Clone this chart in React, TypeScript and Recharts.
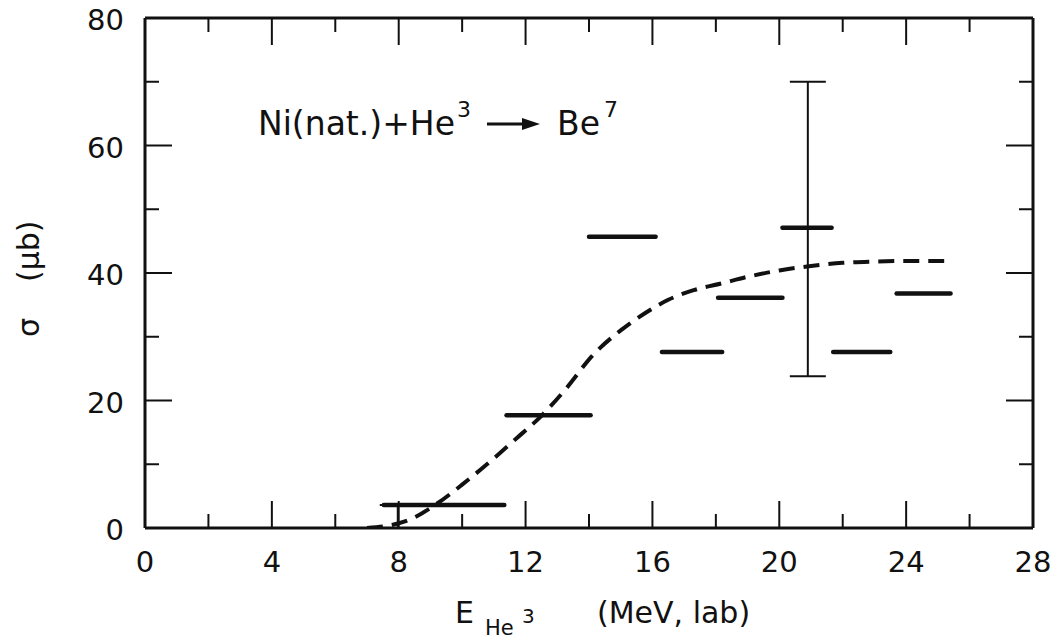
import React from 'react';
import { ComposedChart, Line, Scatter, ErrorBar, XAxis, YAxis } from 'recharts';

// ---- data ----
const xTicks = [0, 2, 4, 6, 8, 10, 12, 14, 16, 18, 20, 22, 24, 26, 28];
const yTicks = [0, 10, 20, 30, 40, 50, 60, 70, 80];
const xMajorStep = 4;
const yMajorStep = 20;

// energy bins (horizontal bars): low edge, high edge, cross section (µb)
const binLo = [7.53, 11.4, 14.0, 16.3, 18.07, 20.1, 21.7, 23.7];
const binHi = [11.33, 14.05, 16.1, 18.2, 20.1, 21.65, 23.5, 25.4];
const binVal = [3.6, 17.7, 45.7, 27.6, 36.1, 47.1, 27.6, 36.8];

// vertical error bars
const errX = [7.97, 20.9];
const errY = [3.6, 47.1];
const errLow = [3.6, 23.3];
const errHigh = [0, 22.9];

// dashed excitation-function curve
const curveX = [7.0, 7.7, 8.3, 9.2, 10.0, 10.9, 11.7, 12.5, 13.3, 14.1, 15.0, 15.8, 16.5, 17.3, 18.2, 19.0, 20.0, 21.0, 22.0, 23.0, 24.0, 25.2];
const curveY = [0, 0.4, 1.2, 3.8, 6.8, 10.5, 14.0, 17.6, 22.0, 27.0, 31.0, 33.8, 35.8, 37.3, 38.4, 39.4, 40.4, 41.1, 41.6, 41.8, 41.9, 41.9];

const FONT = "'DejaVu Sans', sans-serif";
const MAJOR = 27;
const MINOR = 14;
const INK = '#111';

const curveData = curveX.map((x, i) => ({ x, y: curveY[i] }));
const binData = binLo.map((lo, i) => [
  { x: lo, y: binVal[i] },
  { x: binHi[i], y: binVal[i] },
]);
const errData = errX.map((x, i) => ({ x, y: errY[i], err: [errLow[i], errHigh[i]] }));

const BottomTick = (props: any) => {
  const { x, y, payload } = props;
  const v = payload.value;
  const major = v % xMajorStep === 0;
  return (
    <g>
      <line x1={x} y1={y} x2={x} y2={y - (major ? MAJOR : MINOR)} stroke={INK} strokeWidth={2} />
      {major && (
        <text x={x} y={y + 44} textAnchor="middle" fontSize={29} fontFamily={FONT} fill={INK}>
          {v}
        </text>
      )}
    </g>
  );
};

const TopTick = (props: any) => {
  const { x, y, payload } = props;
  const v = payload.value;
  const major = v % xMajorStep === 0;
  return <line x1={x} y1={y} x2={x} y2={y + (major ? MAJOR : MINOR)} stroke={INK} strokeWidth={2} />;
};

const LeftTick = (props: any) => {
  const { x, y, payload } = props;
  const v = payload.value;
  const major = v % yMajorStep === 0;
  return (
    <g>
      <line x1={x} y1={y} x2={x + (major ? MAJOR : MINOR)} y2={y} stroke={INK} strokeWidth={2} />
      {major && (
        <text x={x - 21} y={y + 12} textAnchor="end" fontSize={29} fontFamily={FONT} fill={INK}>
          {v}
        </text>
      )}
    </g>
  );
};

const RightTick = (props: any) => {
  const { x, y, payload } = props;
  const v = payload.value;
  const major = v % yMajorStep === 0;
  return <line x1={x} y1={y} x2={x - (major ? MAJOR : MINOR)} y2={y} stroke={INK} strokeWidth={2} />;
};

const NoShape = () => <g />;

export default function App() {
  const axisLine = { stroke: INK, strokeWidth: 3 };
  return (
    <div style={{ position: 'absolute', left: 0, top: 0, width: 1060, height: 640, background: '#fff' }}>
      <ComposedChart width={1060} height={640} margin={{ top: 10, right: 19, bottom: 62, left: 85 }}>
        <XAxis
          xAxisId="b"
          dataKey="x"
          type="number"
          domain={[0, 28]}
          ticks={xTicks}
          interval={0}
          allowDataOverflow
          orientation="bottom"
          height={50}
          axisLine={axisLine}
          tickLine={false}
          tickSize={0}
          tickMargin={0}
          tick={<BottomTick />}
        />
        <XAxis
          xAxisId="t"
          dataKey="x"
          type="number"
          domain={[0, 28]}
          ticks={xTicks}
          interval={0}
          allowDataOverflow
          orientation="top"
          height={8}
          axisLine={axisLine}
          tickLine={false}
          tickSize={0}
          tickMargin={0}
          tick={<TopTick />}
        />
        <YAxis
          yAxisId="l"
          type="number"
          domain={[0, 80]}
          ticks={yTicks}
          interval={0}
          allowDataOverflow
          orientation="left"
          width={60}
          axisLine={axisLine}
          tickLine={false}
          tickSize={0}
          tickMargin={0}
          tick={<LeftTick />}
        />
        <YAxis
          yAxisId="r"
          type="number"
          domain={[0, 80]}
          ticks={yTicks}
          interval={0}
          allowDataOverflow
          orientation="right"
          width={8}
          axisLine={axisLine}
          tickLine={false}
          tickSize={0}
          tickMargin={0}
          tick={<RightTick />}
        />

        <Line
          xAxisId="b"
          yAxisId="l"
          data={curveData}
          dataKey="y"
          type="monotone"
          stroke={INK}
          strokeWidth={4}
          strokeDasharray="16 9"
          dot={false}
          activeDot={false}
          isAnimationActive={false}
        />
        {binData.map((d, i) => (
          <Line
            key={i}
            xAxisId="b"
            yAxisId="l"
            data={d}
            dataKey="y"
            type="linear"
            stroke={INK}
            strokeWidth={4.5}
            strokeLinecap="round"
            dot={false}
            activeDot={false}
            isAnimationActive={false}
          />
        ))}
        <Scatter
          xAxisId="b"
          yAxisId="l"
          data={errData}
          dataKey="y"
          shape={<NoShape />}
          isAnimationActive={false}
        >
          <ErrorBar dataKey="err" direction="y" width={18} stroke={INK} strokeWidth={2} />
        </Scatter>
        {/* keep top / right axes bound to a series */}
        <Line
          xAxisId="t"
          yAxisId="r"
          data={curveData}
          dataKey="y"
          stroke="none"
          dot={false}
          activeDot={false}
          isAnimationActive={false}
        />
      </ComposedChart>

      <svg
        width={1060}
        height={640}
        style={{ position: 'absolute', left: 0, top: 0, pointerEvents: 'none' }}
        fontFamily={FONT}
        fill={INK}
      >
        {/* annotation */}
        <text x={258} y={135} fontSize={33}>Ni(nat.)+He</text>
        <text x={457} y={117} fontSize={22}>3</text>
        <line x1={487} y1={124} x2={526} y2={124} stroke={INK} strokeWidth={3} />
        <polygon points="540,124 522,118 522,130" fill={INK} />
        <text x={557} y={135} fontSize={33}>Be</text>
        <text x={604} y={117} fontSize={22}>7</text>

        {/* y-axis title */}
        <g transform="translate(39, 337) rotate(-90)">
          <text x={0} y={0} fontSize={30}>
            σ<tspan dx={36}>(μb)</tspan>
          </text>
        </g>

        {/* x-axis title */}
        <text x={455} y={623} fontSize={30}>E</text>
        <text x={485} y={635} fontSize={21}>He</text>
        <text x={522} y={623} fontSize={20}>3</text>
        <text x={597} y={623} fontSize={30}>(MeV, lab)</text>
      </svg>
    </div>
  );
}
